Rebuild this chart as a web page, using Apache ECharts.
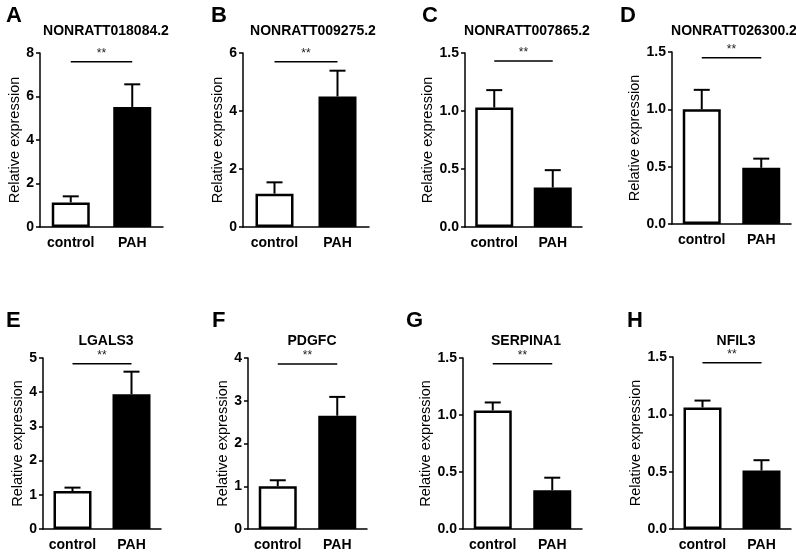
<!DOCTYPE html>
<html>
<head>
<meta charset="utf-8">
<script src="https://cdn.jsdelivr.net/npm/echarts@6/dist/echarts.min.js"></script>
<style>
  html, body { margin: 0; padding: 0; background: #fff; }
  #main { width: 796px; height: 552px; }
</style>
</head>
<body>
<div id="main"></div>
<script>
// data
const letters = ['A', 'B', 'C', 'D', 'E', 'F', 'G', 'H']
const titles = ['NONRATT018084.2', 'NONRATT009275.2', 'NONRATT007865.2', 'NONRATT026300.2', 'LGALS3', 'PDGFC', 'SERPINA1', 'NFIL3']
const categories = ['control', 'PAH']
const controlMean = [1.13, 1.15, 1.03, 1.0, 1.11, 1.0, 1.04, 1.06]
const controlSem = [0.28, 0.39, 0.15, 0.17, 0.10, 0.14, 0.07, 0.06]
const pahMean = [5.52, 4.5, 0.34, 0.49, 3.94, 2.65, 0.34, 0.51]
const pahSem = [1.04, 0.89, 0.15, 0.08, 0.66, 0.44, 0.11, 0.09]
const yMax = [8, 6, 1.5, 1.5, 5, 4, 1.5, 1.5]
const yStep = [2, 2, 0.5, 0.5, 1, 1, 0.5, 0.5]
const sigLevel = [7.6, 5.7, 1.43, 1.45, 4.83, 3.86, 1.45, 1.45]
const sigText = ['**', '**', '**', '**', '**', '**', '**', '**']
const yName = 'Relative expression'

// panel layout: [left, top, width, height, nameGap, letterLeft, titleCenter]
const layout = [
  [40, 53, 123, 174, 16, 1, 101],
  [243, 53, 126, 174, 16, 206, 308],
  [465, 53, 117, 174, 30, 417, 522],
  [672, 52, 119, 172, 30, 615, 729],
  [43, 358, 118, 173, 16, 1, 101],
  [248, 358, 119, 173, 16, 207, 307],
  [463, 358, 119, 173, 30, 401, 521],
  [673, 357, 118, 174, 30, 622, 731]
]

const FONT = 'Liberation Sans, Arial, sans-serif'

const grid = []
const xAxis = []
const yAxis = []
const title = []
const series = []

layout.forEach((g, i) => {
  const top = g[1] < 200
  grid.push({ left: g[0], top: g[1], width: g[2], height: g[3] })

  title.push({
    text: letters[i],
    left: g[5],
    top: top ? 0 : 305,
    textStyle: { fontFamily: FONT, fontSize: 22, fontWeight: 'bold', color: '#000' }
  })
  title.push({
    text: titles[i],
    left: g[6],
    textAlign: 'center',
    top: top ? 19 : 329,
    textStyle: { fontFamily: FONT, fontSize: 14, fontWeight: 'bold', color: '#000' }
  })

  xAxis.push({
    type: 'category',
    gridIndex: i,
    data: categories,
    axisLine: { lineStyle: { color: '#000', width: 1.5 } },
    axisTick: { alignWithLabel: true, length: 4, lineStyle: { color: '#000', width: 1.5 } },
    axisLabel: { interval: 0, color: '#000', fontFamily: FONT, fontSize: 14, fontWeight: 'bold', margin: 9 }
  })

  yAxis.push({
    type: 'value',
    gridIndex: i,
    min: 0,
    max: yMax[i],
    interval: yStep[i],
    name: yName,
    nameLocation: 'middle',
    nameGap: g[4],
    nameTextStyle: { fontFamily: FONT, fontSize: 14.5, color: '#000' },
    splitLine: { show: false },
    axisLine: { show: true, lineStyle: { color: '#000', width: 1.5 } },
    axisTick: { show: true, length: 4, lineStyle: { color: '#000', width: 1.5 } },
    axisLabel: {
      color: '#000', fontFamily: FONT, fontSize: 14, fontWeight: 'bold', margin: 6,
      formatter: v => (yStep[i] < 1 ? v.toFixed(1) : String(v))
    }
  })

  series.push({
    type: 'bar',
    xAxisIndex: i,
    yAxisIndex: i,
    barWidth: 38,
    itemStyle: { borderColor: '#000', borderWidth: 2.5 },
    data: [
      { value: controlMean[i], itemStyle: { color: '#fff' } },
      { value: pahMean[i], itemStyle: { color: '#000' } }
    ]
  })

  // upper error bars (mean + SEM)
  series.push({
    type: 'custom',
    xAxisIndex: i,
    yAxisIndex: i,
    encode: { x: 0, y: 2 },
    data: [
      [0, controlMean[i], controlMean[i] + controlSem[i]],
      [1, pahMean[i], pahMean[i] + pahSem[i]]
    ],
    renderItem: function (params, api) {
      const base = api.coord([api.value(0), api.value(1)])
      const hi = api.coord([api.value(0), api.value(2)])
      const style = { stroke: '#000', lineWidth: 2 }
      return {
        type: 'group',
        children: [
          { type: 'line', shape: { x1: base[0], y1: base[1], x2: hi[0], y2: hi[1] }, style: style },
          { type: 'line', shape: { x1: hi[0] - 8, y1: hi[1], x2: hi[0] + 8, y2: hi[1] }, style: style }
        ]
      }
    }
  })

  // significance bracket
  series.push({
    type: 'custom',
    xAxisIndex: i,
    yAxisIndex: i,
    encode: { x: [0, 1], y: 2 },
    data: [[0, 1, sigLevel[i]]],
    renderItem: function (params, api) {
      const p0 = api.coord([api.value(0), api.value(2)])
      const p1 = api.coord([api.value(1), api.value(2)])
      return {
        type: 'group',
        children: [
          { type: 'line', shape: { x1: p0[0], y1: p0[1], x2: p1[0], y2: p1[1] }, style: { stroke: '#000', lineWidth: 1.5 } },
          {
            type: 'text',
            x: (p0[0] + p1[0]) / 2,
            y: p0[1] - 2,
            style: {
              text: sigText[i], fill: '#222', font: '12px ' + FONT,
              align: 'center', verticalAlign: 'bottom'
            }
          }
        ]
      }
    }
  })
})

const chart = echarts.init(document.getElementById('main'))
chart.setOption({
  animation: false,
  backgroundColor: '#fff',
  title: title,
  grid: grid,
  xAxis: xAxis,
  yAxis: yAxis,
  series: series
})
</script>
</body>
</html>
